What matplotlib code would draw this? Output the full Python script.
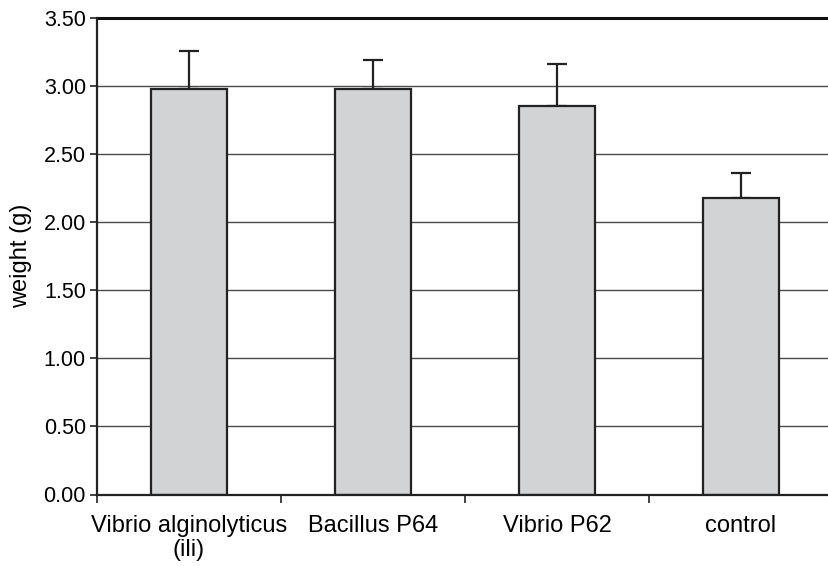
import matplotlib
matplotlib.use("Agg")
import matplotlib.pyplot as plt
import numpy as np

# data
groups = ["Vibrio alginolyticus\n(ili)", "Bacillus P64", "Vibrio P62", "control"]
weight = [2.98, 2.98, 2.85, 2.18]
sd = [0.28, 0.21, 0.31, 0.18]
yticks = [0.0, 0.5, 1.0, 1.5, 2.0, 2.5, 3.0, 3.5]

plt.rcParams['font.family'] = ['Liberation Sans', 'DejaVu Sans']

fig = plt.figure(figsize=(8.29, 5.66), dpi=100)
ax = fig.add_axes([97/829, (566-494.5)/566, 736/829, (494.5-18)/566])

x = np.arange(len(groups))
for y in yticks[1:-1]:
    ax.axhline(y, color='#4a4a4a', lw=1.0, zorder=0)
ax.axhline(3.5, color='#111111', lw=2.2, zorder=0, clip_on=False)

ax.bar(x, weight, width=0.41, color='#d2d3d5', edgecolor='#222222', linewidth=1.6, zorder=2)
ax.errorbar(x, weight, yerr=[np.zeros(len(sd)), sd], fmt='none', ecolor='#222222',
            elinewidth=1.6, capsize=7.5, capthick=1.6, zorder=1)

ax.set_xlim(-0.5, len(groups) - 0.5)
ax.set_ylim(0, 3.5)
ax.set_yticks(yticks)
ax.set_yticklabels([f"{v:.2f}" for v in yticks], fontsize=15.5)
ax.set_ylabel("weight (g)", fontsize=17, labelpad=8)

ax.set_xticks(np.arange(len(groups) + 1) - 0.5)
ax.set_xticklabels([])
ax.set_xticks(x, minor=True)
ax.set_xticklabels(groups, minor=True, fontsize=17, linespacing=1.12)
ax.tick_params(axis='x', which='minor', length=0, pad=15)
ax.tick_params(axis='x', which='major', length=6, width=1.2, color='#222222')
ax.tick_params(axis='y', length=5, width=1.2, color='#222222', pad=3)

for side in ['top', 'right']:
    ax.spines[side].set_visible(False)
for side in ['left', 'bottom']:
    ax.spines[side].set_color('#222222')
    ax.spines[side].set_linewidth(1.6)

fig.savefig("out.png", dpi=100)
